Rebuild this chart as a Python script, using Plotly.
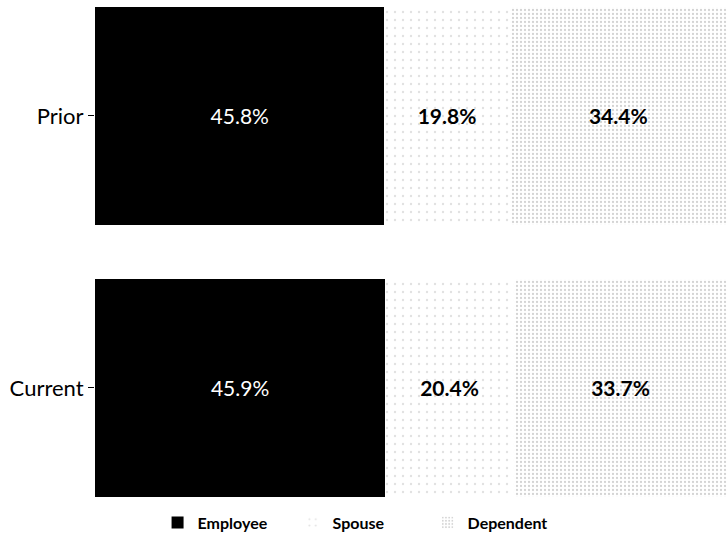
import plotly.graph_objects as go

categories = ["Current", "Prior"]
employee = [45.9, 45.8]
spouse = [20.4, 19.8]
dependent = [33.7, 34.4]

font_family = "Lato, Open Sans, sans-serif"

fig = go.Figure()
fig.add_trace(go.Bar(
    y=categories, x=employee, name="Employee", orientation="h",
    marker=dict(color="#000000", line=dict(width=0)),
    text=[f"{v:.1f}%" for v in employee], textposition="inside",
    insidetextanchor="middle",
    textfont=dict(color="white", size=21, family=font_family),
))
fig.add_trace(go.Bar(
    y=categories, x=spouse, name="Spouse", orientation="h",
    marker=dict(color="#ffffff", line=dict(width=0),
                pattern=dict(shape=".", fgcolor="#c4c4c4", bgcolor="#ffffff",
                             size=8, solidity=0.07)),
    text=[f"{v:.1f}%" for v in spouse], textposition="inside",
    insidetextanchor="middle",
    textfont=dict(color="black", size=21, family=font_family, weight="bold"),
))
fig.add_trace(go.Bar(
    y=categories, x=dependent, name="Dependent", orientation="h",
    marker=dict(color="#ffffff", line=dict(width=0),
                pattern=dict(shape=".", fgcolor="#a8a8a8", bgcolor="#ffffff",
                             size=4, solidity=0.25)),
    text=[f"{v:.1f}%" for v in dependent], textposition="inside",
    insidetextanchor="middle",
    textfont=dict(color="black", size=21, family=font_family, weight="bold"),
))

fig.update_layout(
    barmode="stack",
    bargap=0.2,
    width=727, height=556,
    margin=dict(l=95, r=0, t=0, b=56),
    plot_bgcolor="white", paper_bgcolor="white",
    font=dict(family=font_family, color="black"),
    xaxis=dict(range=[0, 100], visible=False, fixedrange=True),
    yaxis=dict(range=[-0.412, 1.426], ticks="outside", ticklen=6, tickcolor="black",
               tickfont=dict(size=22), showgrid=False, zeroline=False, showline=False),
    legend=dict(orientation="h", x=0.099, xanchor="left", y=-0.011, yanchor="top",
                font=dict(size=16, weight="bold"), traceorder="normal",
                entrywidth=90, entrywidthmode="pixels"),
    showlegend=True,
)

fig.write_html("out.html")
